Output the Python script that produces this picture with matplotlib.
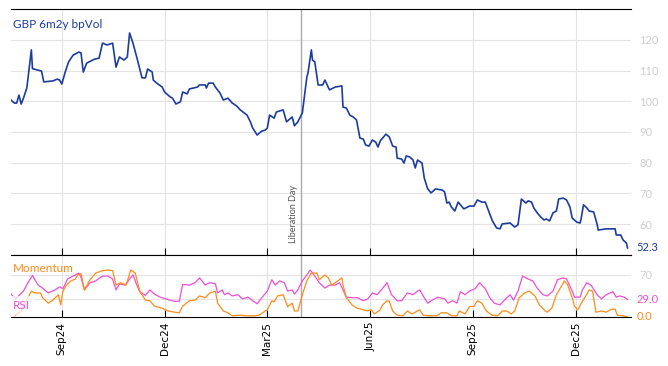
"""
GBP 6m2y bpVol with momentum / RSI sub-panel.
Values read off the reference chart (day offsets from START).
"""

import pandas as pd
import matplotlib
matplotlib.use("Agg")
import matplotlib.pyplot as plt

START = pd.Timestamp("2024-07-19")
LIB_DAY = pd.Timestamp("2025-04-02")

vol_day = [0, 3, 5, 7, 9, 11, 14, 18, 19, 27, 29, 37, 41, 43, 45, 48, 51, 55, 60, 62,
           64, 67, 74, 78, 81, 85, 90, 93, 96, 100, 103, 105, 108, 112, 116, 119, 121, 125, 126, 129,
           134, 136, 141, 143, 146, 150, 152, 156, 158, 165, 167, 172, 173, 175, 179, 181, 185, 188, 192, 196,
           200, 203, 209, 212, 214, 218, 222, 225, 227, 229, 233, 235, 241, 244, 249, 251, 254, 258, 262, 263,
           266, 267, 269, 272, 276, 278, 282, 287, 293, 294, 297, 300, 303, 306, 309, 312, 314, 317, 320, 323,
           325, 327, 332, 335, 338, 341, 342, 346, 348, 350, 353, 356, 358, 360, 364, 366, 369, 372, 376, 382,
           384, 386, 388, 390, 393, 396, 398, 401, 406, 410, 413, 417, 420, 422, 426, 427, 430, 433, 435, 442,
           446, 449, 452, 456, 458, 461, 463, 466, 469, 472, 474, 477, 480, 483, 485, 489, 492, 495, 497, 501,
           504, 505, 507, 510, 512, 516, 519, 520, 527, 535, 536, 540, 542, 545, 546]
vol = [100.4, 99.4, 99.4, 102.0, 99.1, 101.0, 104.3, 116.7, 110.6, 109.8, 106.3, 106.6, 107.2, 106.9, 105.6, 109.5, 112.8, 115.0, 116.0, 115.7,
       109.5, 112.4, 113.7, 114.0, 118.9, 118.3, 118.9, 111.1, 114.4, 113.4, 114.4, 122.2, 118.9, 113.4, 107.6, 107.6, 110.5, 109.5, 106.9, 105.9,
       104.6, 103.0, 101.4, 101.0, 99.1, 99.8, 103.0, 102.4, 104.0, 104.6, 105.3, 105.3, 104.3, 105.9, 105.9, 104.6, 102.7, 100.4, 101.0, 99.4,
       98.4, 97.2, 95.5, 93.3, 91.3, 89.0, 90.3, 90.6, 91.3, 95.5, 94.5, 96.5, 97.2, 93.3, 94.9, 92.0, 93.3, 96.2, 107.9, 109.2,
       116.7, 113.4, 112.8, 105.3, 105.3, 106.9, 103.7, 104.6, 105.0, 98.1, 97.8, 95.5, 94.9, 93.9, 88.0, 87.7, 85.8, 85.4, 87.4, 86.7,
       85.1, 87.1, 89.3, 88.4, 85.4, 85.1, 81.5, 81.2, 79.9, 82.2, 81.9, 80.9, 78.3, 80.9, 79.9, 75.0, 71.5, 70.2, 71.5, 71.1,
       70.5, 66.9, 67.2, 65.6, 64.3, 67.2, 66.3, 65.0, 65.9, 65.9, 67.9, 67.2, 67.2, 65.3, 61.4, 60.7, 58.8, 58.5, 60.1, 60.4,
       59.1, 59.8, 68.2, 66.9, 67.6, 67.2, 65.3, 63.7, 62.4, 61.4, 61.7, 61.1, 63.7, 64.3, 68.2, 68.5, 67.9, 65.6, 62.0, 60.7,
       60.4, 62.0, 66.3, 65.3, 64.3, 64.0, 60.1, 58.1, 58.5, 58.5, 56.5, 56.5, 54.9, 53.9, 52.3]

rsi_day = [0, 4, 11, 15, 19, 24, 28, 33, 39, 43, 46, 50, 55, 60, 62, 65, 70, 75, 81, 86,
           90, 93, 96, 101, 105, 108, 111, 114, 119, 123, 127, 132, 139, 145, 149, 152, 158, 163, 167, 172,
           176, 181, 183, 187, 189, 192, 196, 201, 205, 210, 214, 218, 222, 227, 231, 234, 238, 242, 245, 249,
           251, 254, 258, 262, 265, 269, 273, 278, 282, 287, 291, 294, 297, 303, 307, 312, 316, 320, 324, 328,
           333, 337, 342, 346, 351, 356, 360, 362, 365, 369, 373, 378, 384, 387, 391, 395, 398, 402, 406, 411,
           415, 420, 424, 428, 433, 437, 442, 445, 449, 453, 458, 462, 466, 471, 475, 480, 484, 489, 492, 497,
           499, 504, 506, 510, 514, 519, 523, 527, 533, 536, 539, 543, 546]
rsi = [38, 30, 43, 57, 69, 53, 48, 40, 45, 50, 47, 63, 68, 73, 66, 45, 57, 60, 68, 68,
       63, 45, 55, 53, 63, 70, 55, 42, 36, 45, 38, 33, 29, 26, 26, 54, 53, 57, 65, 53,
       57, 55, 40, 45, 37, 40, 35, 37, 30, 33, 27, 22, 32, 43, 62, 53, 60, 57, 43, 45,
       38, 45, 60, 70, 78, 68, 57, 48, 53, 53, 57, 45, 33, 32, 32, 27, 30, 40, 37, 45,
       57, 37, 27, 27, 40, 37, 43, 45, 35, 23, 28, 33, 30, 23, 27, 23, 42, 37, 43, 47,
       57, 47, 32, 23, 20, 28, 37, 28, 43, 68, 63, 60, 48, 37, 35, 43, 62, 65, 63, 43,
       33, 33, 45, 57, 52, 37, 30, 37, 42, 33, 35, 33, 29]

mom_day = [4, 9, 15, 18, 21, 26, 28, 33, 37, 42, 44, 46, 49, 53, 57, 59, 62, 65, 70, 75,
           81, 86, 90, 93, 97, 102, 106, 110, 114, 119, 123, 127, 133, 139, 145, 149, 152, 158, 163, 167,
           172, 176, 181, 183, 188, 192, 196, 203, 209, 216, 220, 225, 227, 231, 233, 236, 241, 245, 249, 251,
           254, 258, 262, 266, 271, 273, 278, 281, 284, 287, 291, 293, 294, 297, 302, 306, 312, 316, 319, 322,
           327, 329, 333, 335, 338, 342, 347, 351, 355, 360, 362, 365, 371, 377, 381, 386, 390, 395, 397, 402,
           406, 410, 413, 417, 421, 426, 431, 435, 439, 443, 446, 450, 455, 459, 464, 468, 473, 475, 479, 483,
           488, 490, 493, 497, 499, 502, 505, 510, 512, 515, 518, 523, 527, 532, 535, 537, 542, 546]
mom = [3, 10, 32, 43, 40, 40, 32, 23, 28, 37, 20, 43, 53, 60, 63, 70, 72, 45, 62, 73,
       77, 78, 77, 53, 57, 53, 78, 73, 43, 28, 27, 18, 15, 10, 8, 7, 18, 27, 28, 35,
       32, 40, 43, 23, 10, 7, 2, 3, 2, 2, 3, 10, 12, 27, 25, 35, 37, 17, 23, 10,
       10, 37, 60, 73, 73, 62, 70, 65, 53, 57, 62, 65, 53, 32, 20, 15, 12, 10, 12, 5,
       12, 20, 27, 26, 10, 3, 2, 10, 5, 10, 12, 3, 2, 2, 7, 7, 2, 2, 10, 5,
       17, 18, 27, 23, 10, 3, 2, 10, 10, 5, 10, 32, 40, 43, 35, 20, 10, 8, 15, 37,
       53, 60, 53, 32, 18, 12, 23, 38, 45, 43, 8, 10, 8, 13, 13, 3, 2, 0]

tick_dates = ["2024-09-02", "2024-12-02", "2025-03-03", "2025-06-02", "2025-09-01", "2025-12-01"]
tick_labels = ["Sep24", "Dec24", "Mar25", "Jun25", "Sep25", "Dec25"]
vol_ticks = [60, 70, 80, 90, 100, 110, 120]

BLUE = "#1c3ca0"
ORANGE = "#ff8c1a"
PINK = "#f04ed6"
GRID = "#e3e3e3"
LABEL = "#cfcfcf"


def to_dates(days):
    return START + pd.to_timedelta(days, unit="D")


def style_axis(ax):
    for side in ["left", "right"]:
        ax.spines[side].set_visible(False)
    ax.spines["top"].set_color("black")
    ax.spines["bottom"].set_color("black")
    ax.grid(True, color=GRID, linewidth=0.8)
    ax.set_axisbelow(True)
    ax.yaxis.tick_right()
    ax.tick_params(axis="y", length=0, pad=6, labelcolor=LABEL, labelsize=8)
    ax.tick_params(axis="x", direction="in", length=5, color="black")
    for lab in ax.get_yticklabels():
        lab.set_family("Lato")


fig = plt.figure(figsize=(6.68, 3.66), dpi=100)
ax1 = fig.add_axes([0.0165, 0.3033, 0.928, 0.6721])
ax2 = fig.add_axes([0.0165, 0.1339, 0.928, 0.1694], sharex=ax1)

ax1.plot(to_dates(vol_day), vol, color=BLUE, linewidth=1.2)
ax1.set_ylim(50, 130)
ax1.set_yticks(vol_ticks)
ax2.plot(to_dates(rsi_day), rsi, color=PINK, linewidth=0.9)
ax2.plot(to_dates(mom_day), mom, color=ORANGE, linewidth=0.9)
ax2.set_ylim(0, 103)
ax2.set_yticks([30, 70], labels=["", "70"])

ticks = pd.to_datetime(tick_dates)
ax1.set_xticks(ticks)
ax1.set_xlim(START, START + pd.Timedelta(days=549))
style_axis(ax1)
style_axis(ax2)
ax1.tick_params(axis="x", labelbottom=False)
ax2.set_xticklabels(tick_labels, rotation=90, fontsize=7.5)

# Liberation Day marker across both panels
for ax in (ax1, ax2):
    ax.axvline(LIB_DAY, color="#aaaaaa", linewidth=1.0, zorder=1)
ax1.text(LIB_DAY - pd.Timedelta(days=3), 53.8, "Liberation Day", rotation=90,
         fontsize=6.5, color="#555555", ha="right", va="bottom", family="Lato")

ax1.text(0.003, 0.935, "GBP 6m2y bpVol", transform=ax1.transAxes, color=BLUE,
         fontsize=8.5, family="Lato", ha="left", va="center")
ax2.text(0.003, 0.78, "Momentum", transform=ax2.transAxes, color=ORANGE,
         fontsize=8.5, family="Lato", ha="left", va="center")
ax2.text(0.003, 0.19, "RSI", transform=ax2.transAxes, color=PINK,
         fontsize=8.5, family="Lato", ha="left", va="center",
         bbox=dict(facecolor="white", edgecolor="none", alpha=0.7, pad=3))

# last values on the right
ax1.text(1.009, vol[-1], f"{vol[-1]:.1f}", transform=ax1.get_yaxis_transform(),
         color=BLUE, fontsize=8, family="Lato", ha="left", va="center")
ax2.text(1.009, rsi[-1], f"{rsi[-1]:.1f}", transform=ax2.get_yaxis_transform(),
         color=PINK, fontsize=8, family="Lato", ha="left", va="center")
ax2.text(1.009, mom[-1], f"{mom[-1]:.1f}", transform=ax2.get_yaxis_transform(),
         color=ORANGE, fontsize=8, family="Lato", ha="left", va="center")

fig.savefig("out.png", dpi=100)
